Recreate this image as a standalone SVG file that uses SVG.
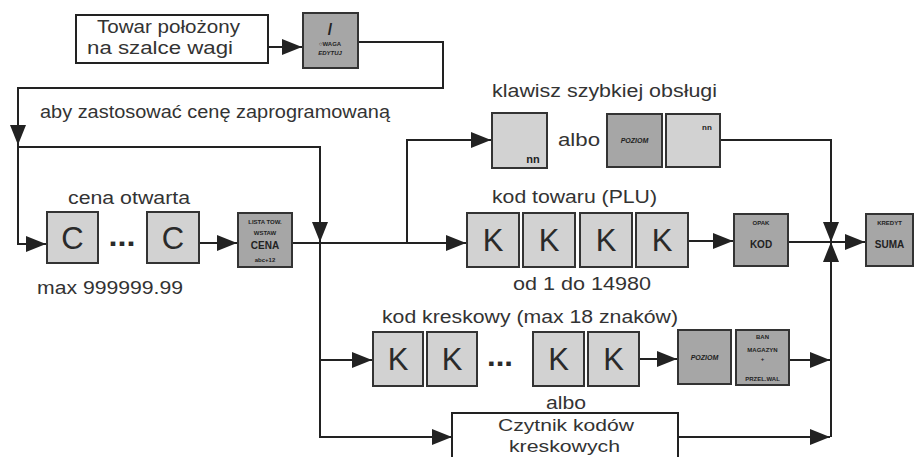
<svg xmlns="http://www.w3.org/2000/svg" width="914" height="457" viewBox="0 0 914 457">
<defs>
<marker id="ah" markerUnits="userSpaceOnUse" markerWidth="20" markerHeight="16" refX="20" refY="8" orient="auto">
<path d="M0,0 L20,8 L0,16 Z" fill="#222"/>
</marker>
<style>
.lbl{font-family:"Liberation Sans",Arial,sans-serif;font-size:17.5px;fill:#333}
.sm{font-size:16.5px}
.box{fill:#fff;stroke:#222;stroke-width:2}
.lt{fill:#d2d2d2;stroke:#333;stroke-width:2}
.dk{fill:#a6a6a6;stroke:#333;stroke-width:2}
.big{font-family:"Liberation Sans",Arial,sans-serif;font-size:31px;fill:#2a2a2a;text-anchor:middle}
.dots{font-family:"Liberation Sans",Arial,sans-serif;font-size:30px;font-weight:bold;fill:#2a2a2a;text-anchor:middle}
.kt{font-family:"Liberation Sans",Arial,sans-serif;font-size:6px;font-weight:bold;fill:#222;text-anchor:middle}
.kb{font-family:"Liberation Sans",Arial,sans-serif;font-size:10px;font-weight:bold;fill:#222;text-anchor:middle}
.ki{font-family:"Liberation Sans",Arial,sans-serif;font-size:7px;font-weight:bold;font-style:italic;fill:#222;text-anchor:middle}
.conn{fill:none;stroke:#222;stroke-width:2}
</style>
</defs>
<rect width="914" height="457" fill="#fff"/>

<g id="connectors">
<path class="conn" d="M268,47 H302" marker-end="url(#ah)"/>
<path class="conn" d="M358,42 H443 V88 H18 V145" marker-end="url(#ah)"/>
<path class="conn" d="M18,145 V244 H46" marker-end="url(#ah)"/>
<path class="conn" d="M18,147 H320 V242" marker-end="url(#ah)"/>
<path class="conn" d="M199,243 H237" marker-end="url(#ah)"/>
<path class="conn" d="M292,243 H466" marker-end="url(#ah)"/>
<path class="conn" d="M407,243 V140 H491" marker-end="url(#ah)"/>
<path class="conn" d="M320,242 V437 H452" marker-end="url(#ah)"/>
<path class="conn" d="M320,360 H372" marker-end="url(#ah)"/>
<path class="conn" d="M688,241 H733" marker-end="url(#ah)"/>
<path class="conn" d="M788,242 H831"/>
<path class="conn" d="M831,242 H865" marker-end="url(#ah)"/>
<path class="conn" d="M720,140 H831 V242" marker-end="url(#ah)"/>
<path class="conn" d="M639,359 H677" marker-end="url(#ah)"/>
<path class="conn" d="M789,360 H830" marker-end="url(#ah)"/>
<path class="conn" d="M831,437 V242" marker-end="url(#ah)"/>
<path class="conn" d="M678,437 H830" marker-end="url(#ah)"/>
</g>

<g id="towar">
<rect class="box" x="76" y="15" width="192" height="48"/>
<text class="lbl" x="97" y="33" textLength="143" lengthAdjust="spacingAndGlyphs">Towar położony</text>
<text class="lbl" x="87" y="54" textLength="146" lengthAdjust="spacingAndGlyphs">na szalce wagi</text>
</g>

<g id="key-waga">
<rect class="dk" x="303" y="13" width="55" height="55"/>
<text x="330" y="35" font-family="Liberation Sans, Arial, sans-serif" font-size="16" font-weight="bold" fill="#222" text-anchor="middle">/</text>
<text class="kt" x="330" y="46">○WAGA</text>
<text class="kt" x="330" y="55" font-style="italic">EDYTUJ</text>
</g>

<text class="lbl" x="40" y="118" textLength="350" lengthAdjust="spacingAndGlyphs">aby zastosować cenę zaprogramowaną</text>

<g id="cena-otwarta">
<text class="lbl" x="68" y="204" textLength="122" lengthAdjust="spacingAndGlyphs">cena otwarta</text>
<rect class="lt" x="47" y="212" width="51" height="51"/>
<text class="big" x="72.5" y="249">C</text>
<text class="dots" x="122" y="246" textLength="27" lengthAdjust="spacingAndGlyphs">...</text>
<rect class="lt" x="147" y="212" width="52" height="51"/>
<text class="big" x="173" y="249">C</text>
<text class="lbl" x="37" y="294" textLength="146" lengthAdjust="spacingAndGlyphs">max 999999.99</text>
</g>

<g id="key-cena">
<rect class="dk" x="238" y="213" width="54" height="54"/>
<text class="kt" x="265" y="224">LISTA TOW.</text>
<text class="kt" x="265" y="235">WSTAW</text>
<text class="kb" x="265" y="249">CENA</text>
<text class="kt" x="265" y="262">abc+12</text>
</g>

<g id="szybki">
<text class="lbl" x="492" y="97" textLength="225" lengthAdjust="spacingAndGlyphs">klawisz szybkiej obsługi</text>
<rect class="lt" x="492" y="113" width="55" height="55"/>
<text x="533" y="163" font-family="Liberation Sans, Arial, sans-serif" font-size="11" font-weight="bold" fill="#222" text-anchor="middle">nn</text>
<text class="lbl" x="558" y="146" textLength="42" lengthAdjust="spacingAndGlyphs">albo</text>
<rect class="dk" x="607" y="114" width="55" height="53"/>
<text class="ki" x="634.5" y="143">POZIOM</text>
<rect class="lt" x="666" y="114" width="54" height="53"/>
<text x="707" y="130" font-family="Liberation Sans, Arial, sans-serif" font-size="8" font-weight="bold" fill="#222" text-anchor="middle">nn</text>
</g>

<g id="plu">
<text class="lbl" x="492" y="203" textLength="165" lengthAdjust="spacingAndGlyphs">kod towaru (PLU)</text>
<rect class="lt" x="467" y="213" width="52" height="54"/>
<text class="big" x="493" y="251">K</text>
<rect class="lt" x="523" y="213" width="52" height="54"/>
<text class="big" x="549" y="251">K</text>
<rect class="lt" x="580" y="213" width="52" height="54"/>
<text class="big" x="606" y="251">K</text>
<rect class="lt" x="636" y="213" width="52" height="54"/>
<text class="big" x="662" y="251">K</text>
<text class="lbl" x="513" y="290" textLength="138" lengthAdjust="spacingAndGlyphs">od 1 do 14980</text>
</g>

<g id="key-kod">
<rect class="dk" x="734" y="214" width="54" height="52"/>
<text class="kt" x="761" y="225">OPAK</text>
<text class="kb" x="761" y="248">KOD</text>
</g>

<g id="key-suma">
<rect class="dk" x="866" y="214" width="47" height="52"/>
<text class="kt" x="889.5" y="225">KREDYT</text>
<text class="kb" x="889.5" y="248">SUMA</text>
</g>

<g id="kreskowy">
<text class="lbl" x="382" y="323" textLength="296" lengthAdjust="spacingAndGlyphs">kod kreskowy (max 18 znaków)</text>
<rect class="lt" x="373" y="332" width="50" height="54"/>
<text class="big" x="398" y="370">K</text>
<rect class="lt" x="427" y="332" width="50" height="54"/>
<text class="big" x="452" y="370">K</text>
<text class="dots" x="500" y="366" textLength="26" lengthAdjust="spacingAndGlyphs">...</text>
<rect class="lt" x="533" y="332" width="51" height="54"/>
<text class="big" x="558.5" y="370">K</text>
<rect class="lt" x="588" y="332" width="51" height="54"/>
<text class="big" x="613.5" y="370">K</text>
</g>

<g id="key-poziom2">
<rect class="dk" x="678" y="330" width="53" height="54"/>
<text class="ki" x="704.5" y="360">POZIOM</text>
</g>

<g id="key-ban">
<rect class="dk" x="736" y="330" width="53" height="55"/>
<text class="kt" x="762.5" y="339">BAN</text>
<text class="kt" x="762.5" y="352">MAGAZYN</text>
<text class="kt" x="762.5" y="361">+</text>
<text class="kt" x="762.5" y="381">PRZEL.WAL</text>
</g>

<g id="czytnik">
<text class="lbl" x="546" y="409" textLength="40" lengthAdjust="spacingAndGlyphs">albo</text>
<rect class="box" x="452" y="413" width="226" height="60"/>
<text class="lbl sm" x="498" y="431" textLength="136" lengthAdjust="spacingAndGlyphs">Czytnik kodów</text>
<text class="lbl sm" x="509" y="452" textLength="111" lengthAdjust="spacingAndGlyphs">kreskowych</text>
</g>
</svg>
